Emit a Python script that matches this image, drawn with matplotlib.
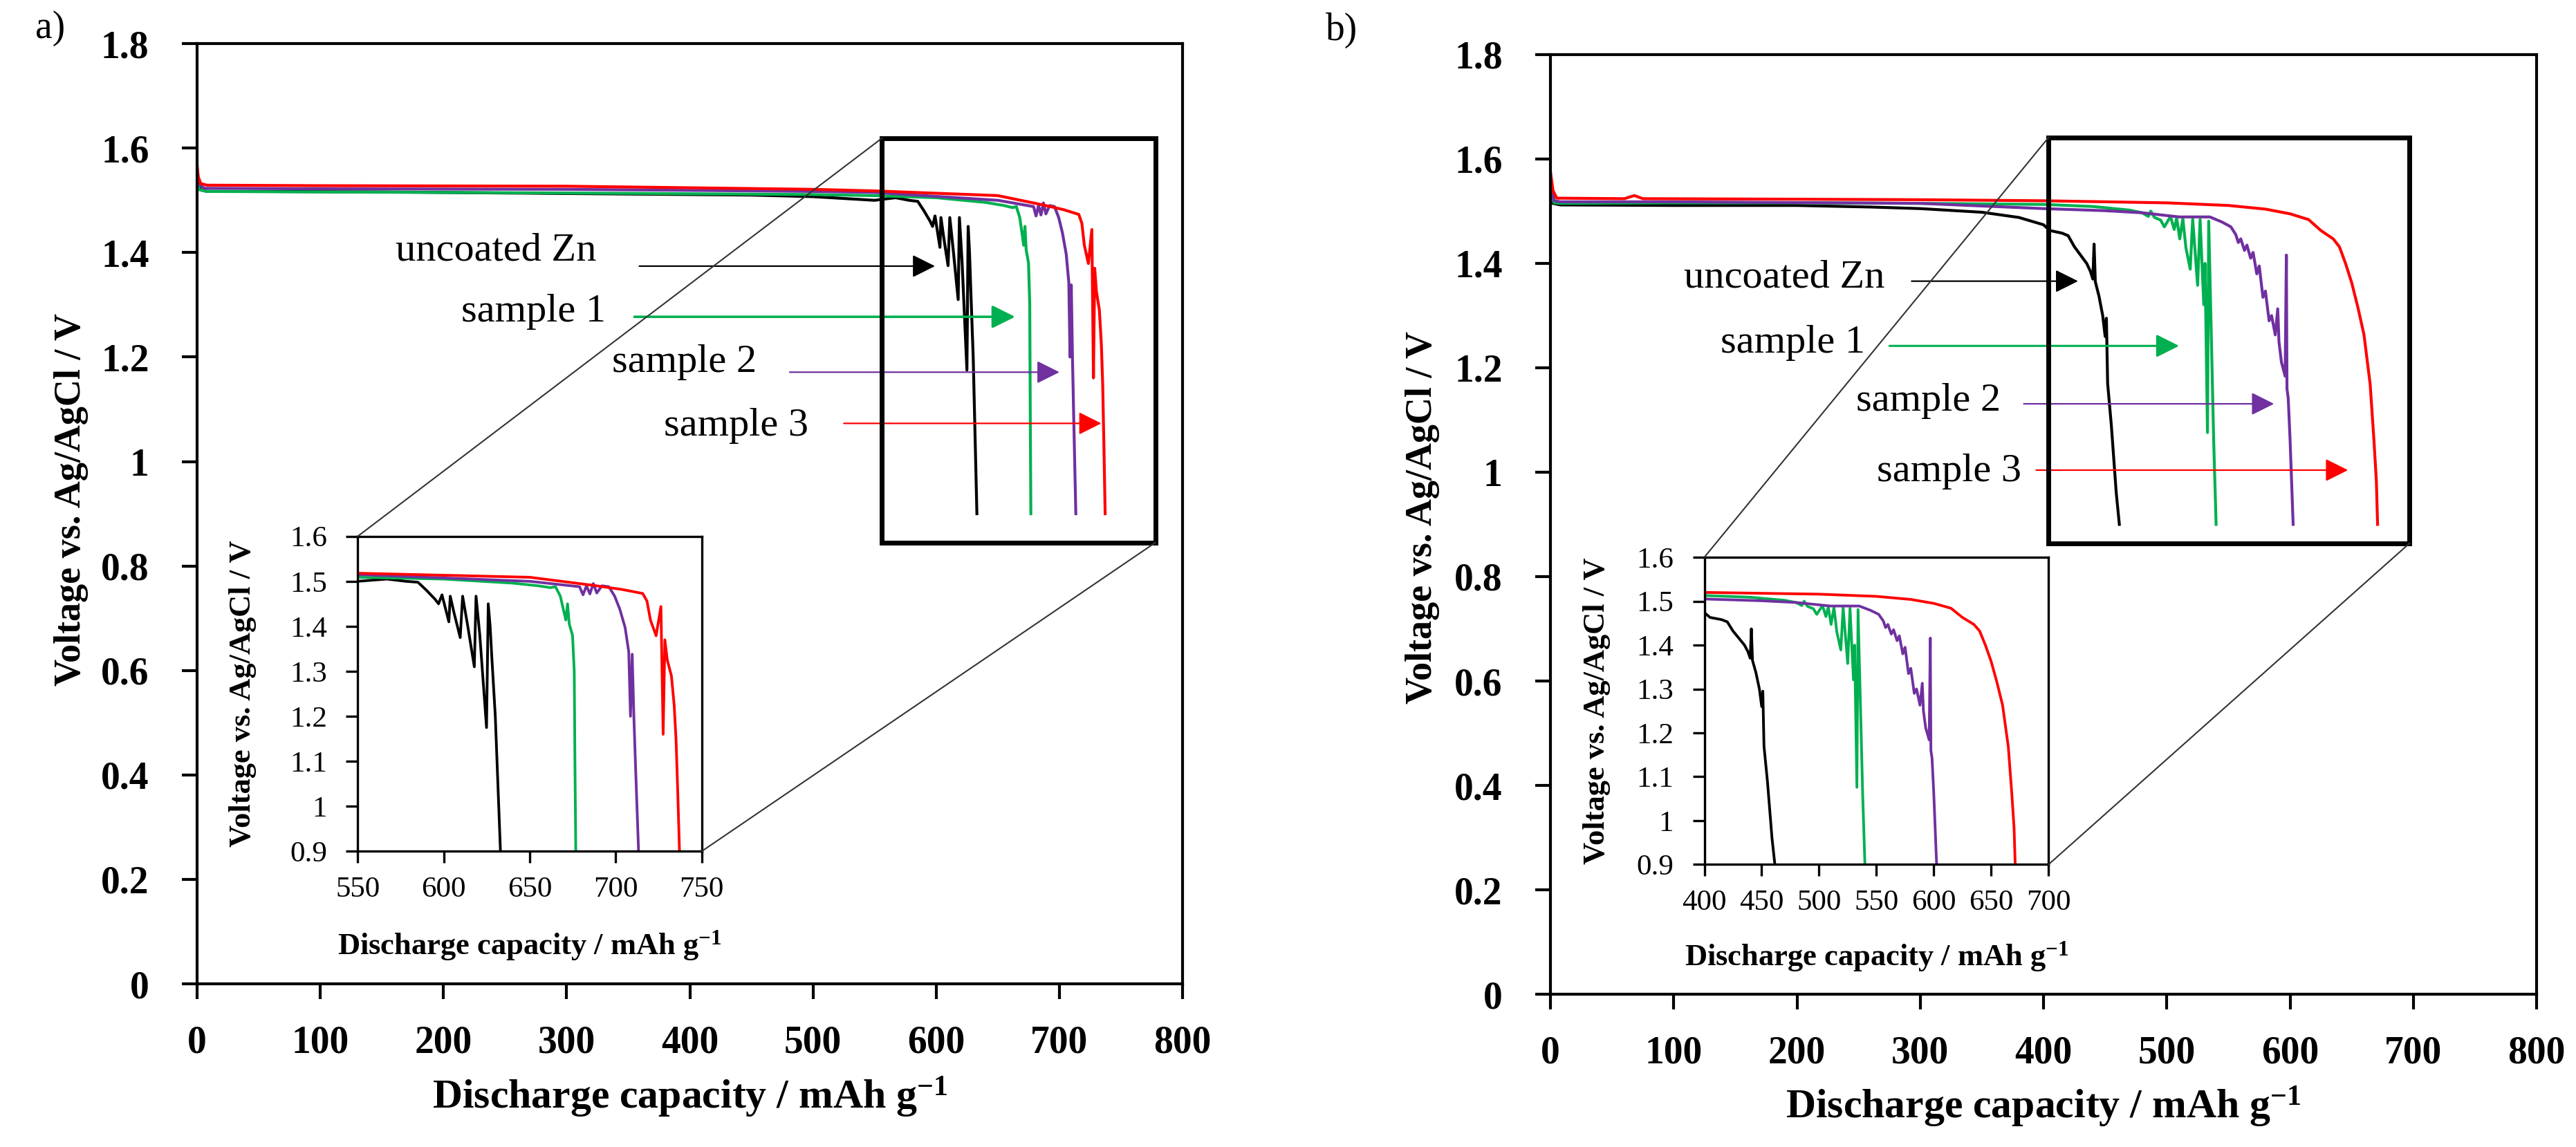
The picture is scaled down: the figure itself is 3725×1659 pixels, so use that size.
import matplotlib
matplotlib.use('Agg')
import matplotlib.pyplot as plt
from matplotlib.patches import Rectangle, ConnectionPatch
from matplotlib.ticker import FuncFormatter, MultipleLocator

plt.rcParams['font.family'] = 'Liberation Serif'
plt.rcParams['mathtext.fontset'] = 'custom'
plt.rcParams['mathtext.rm'] = 'Liberation Serif'
plt.rcParams['mathtext.bf'] = 'Liberation Serif:bold'
plt.rcParams['mathtext.it'] = 'Liberation Serif:italic'

names = ['uncoated Zn', 'sample 1', 'sample 2', 'sample 3']
colors = ['black', '#00B050', '#7030A0', '#FF0000']

# ---- panel a data (capacity in mAh/g, voltage in V) ----
a_black_cap = [0, 1, 3, 8, 50, 150, 250, 350, 450, 500, 550, 560, 567, 578, 585, 590, 595, 597,
               599, 601, 603, 603.8, 606, 609.6, 611, 614, 617.8, 618.8, 621, 624.9, 625.9, 627,
               628, 630, 632, 633]
a_black_v = [1.55, 1.53, 1.52, 1.517, 1.517, 1.516, 1.514, 1.512, 1.51, 1.507, 1.50, 1.503, 1.505,
             1.50, 1.498, 1.48, 1.46, 1.45, 1.47, 1.44, 1.41, 1.467, 1.43, 1.375, 1.467, 1.40, 1.31,
             1.467, 1.38, 1.175, 1.45, 1.40, 1.33, 1.20, 1.00, 0.9]
a_green_cap = [0, 2, 8, 100, 300, 500, 550, 600, 640, 655, 662, 665, 667.8, 671, 672, 673, 674.9,
               675.9, 676.3, 676.8]
a_green_v = [1.535, 1.52, 1.517, 1.516, 1.514, 1.511, 1.509, 1.505, 1.496, 1.49, 1.486, 1.488,
             1.467, 1.414, 1.45, 1.405, 1.38, 1.30, 1.10, 0.9]
a_purple_cap = [0, 2, 6, 100, 300, 500, 550, 650, 679, 681, 683, 685, 687, 689, 692, 696, 699.4,
                702.4, 705.5, 707.6, 708.6, 709.6, 710.6, 711.6, 713.3]
a_purple_v = [1.55, 1.53, 1.523, 1.522, 1.521, 1.517, 1.515, 1.50, 1.488, 1.47, 1.49, 1.472, 1.495,
              1.474, 1.49, 1.488, 1.467, 1.438, 1.397, 1.343, 1.20, 1.338, 1.196, 1.083, 0.9]
a_red_cap = [0, 1, 3, 8, 100, 300, 500, 550, 650, 687, 703.5, 715.7, 718.2, 720.2, 723.5, 726.3,
             727.6, 728.6, 730, 732.4, 734, 735.1, 736.1, 737.1]
a_red_v = [1.568, 1.545, 1.532, 1.529, 1.528, 1.527, 1.521, 1.518, 1.509, 1.491, 1.482, 1.473,
           1.456, 1.414, 1.379, 1.444, 1.16, 1.37, 1.325, 1.29, 1.225, 1.148, 1.03, 0.9]

# ---- panel b data ----
b_black_cap = [0, 2, 8, 100, 200, 260, 300, 350, 380, 400, 405, 415, 420, 425, 430, 435, 438, 440,
               441, 442, 445, 448, 450, 451, 452, 455, 459, 461.5]
b_black_v = [1.53, 1.515, 1.512, 1.511, 1.511, 1.508, 1.505, 1.498, 1.488, 1.474, 1.463, 1.458,
             1.453, 1.432, 1.416, 1.40, 1.385, 1.37, 1.437, 1.365, 1.337, 1.30, 1.26, 1.295, 1.17,
             1.09, 0.96, 0.9]
b_green_cap = [0, 3, 8, 100, 200, 300, 400, 440, 470, 480, 485, 487, 490, 495, 498, 503, 506, 508,
               510.5, 513, 515.5, 519, 521, 525, 527, 530, 531, 533, 534, 536.5, 538, 540]
b_green_v = [1.53, 1.516, 1.515, 1.516, 1.516, 1.515, 1.513, 1.509, 1.502, 1.497, 1.49, 1.50,
             1.488, 1.483, 1.47, 1.49, 1.465, 1.487, 1.447, 1.486, 1.43, 1.389, 1.485, 1.358,
             1.484, 1.321, 1.40, 1.076, 1.481, 1.221, 1.063, 0.9]
b_purple_cap = [0, 3, 8, 100, 300, 400, 450, 480, 510, 535, 545, 552, 556, 558, 560, 563, 565, 568,
                570, 573, 575, 578, 580, 583, 585, 588, 590, 591, 593, 596, 597, 597.5, 598.5, 600,
                602.5]
b_purple_v = [1.55, 1.52, 1.518, 1.518, 1.515, 1.505, 1.501, 1.497, 1.489, 1.489, 1.479, 1.47,
              1.455, 1.44, 1.447, 1.425, 1.435, 1.41, 1.421, 1.38, 1.395, 1.335, 1.347, 1.29, 1.30,
              1.263, 1.313, 1.25, 1.211, 1.184, 1.416, 1.16, 1.142, 1.063, 0.9]
b_red_cap = [0, 2, 5, 60, 68, 75, 200, 300, 400, 450, 500, 550, 580, 600, 615, 625, 630, 635, 640,
             645, 650, 655, 660, 665, 668, 670, 671]
b_red_v = [1.575, 1.54, 1.525, 1.524, 1.53, 1.524, 1.523, 1.522, 1.52, 1.518, 1.516, 1.511, 1.504,
           1.495, 1.484, 1.463, 1.455, 1.447, 1.432, 1.40, 1.363, 1.316, 1.263, 1.168, 1.063, 0.984,
           0.9]

# annotation arrows: (text right x, text y, arrow start x, arrow end x, arrow y)
a_notes = [(324, 1.404, 359, 599, 1.374), (332, 1.286, 355, 664, 1.277),
           (454, 1.190, 481, 700, 1.171), (496, 1.068, 525, 734, 1.073)]
b_notes = [(271, 1.373, 293, 428, 1.366), (255, 1.248, 275, 510, 1.242),
           (365, 1.136, 384, 587, 1.131), (382, 1.001, 394, 647, 1.004)]
a_arrow_lw = [1.6, 2.6, 1.6, 1.6]
b_arrow_lw = [1.6, 2.2, 1.6, 1.6]

fmt = FuncFormatter(lambda v, p: f'{round(v, 2):g}')
xlab = 'Discharge capacity / mAh g$^{\\mathbf{-1}}$'
ylab = 'Voltage vs. Ag/AgCl / V'


def panel(fig, rect, curves, notes, arrow_lw, box, inset_rect, inset_xlim, tag, tag_xy,
          ylab_xy, xlab_y, inset_ylab_x):
    ax = fig.add_axes(rect)
    for (cap, v), c in zip(curves, colors):
        ax.plot(cap, v, color=c, lw=3)
    ax.set_xlim(0, 800)
    ax.set_ylim(0, 1.8)
    ax.xaxis.set_major_locator(MultipleLocator(100))
    ax.yaxis.set_major_locator(MultipleLocator(0.2))
    ax.yaxis.set_major_formatter(fmt)
    for s in ax.spines.values():
        s.set_linewidth(3)
    ax.tick_params(axis='both', direction='out', length=16, width=3, labelsize=40)
    ax.tick_params(axis='x', pad=27)
    ax.tick_params(axis='y', pad=34)
    for lab in ax.get_xticklabels() + ax.get_yticklabels():
        lab.set_fontweight('bold')
    ax.set_xlabel(xlab, fontsize=43, fontweight='bold', va='center')
    ax.xaxis.set_label_coords(0.5, xlab_y)
    ax.set_ylabel(ylab, fontsize=39, fontweight='bold', va='center')
    ax.yaxis.set_label_coords(ylab_xy[0], ylab_xy[1])

    for (tx, ty, x0, x1, ay), c, lw, name in zip(notes, colors, arrow_lw, names):
        ax.text(tx, ty, name, fontsize=42, ha='right', va='center')
        ax.annotate('', xy=(x1, ay), xytext=(x0, ay),
                    arrowprops=dict(arrowstyle='-|>,head_length=0.6,head_width=0.3',
                                    color=c, lw=lw, mutation_scale=34, shrinkA=0, shrinkB=0))

    bx0, by0, bx1, by1 = box
    ax.add_patch(Rectangle((bx0, by0), bx1 - bx0, by1 - by0, fill=False, lw=5,
                           edgecolor='black', zorder=3))

    ins = ax.inset_axes(inset_rect)
    for (cap, v), c in zip(curves, colors):
        ins.plot(cap, v, color=c, lw=2.8)
    ins.set_xlim(*inset_xlim)
    ins.set_ylim(0.9, 1.6)
    ins.xaxis.set_major_locator(MultipleLocator(50))
    ins.yaxis.set_major_locator(MultipleLocator(0.1))
    ins.yaxis.set_major_formatter(fmt)
    for s in ins.spines.values():
        s.set_linewidth(2.4)
    ins.tick_params(axis='both', direction='out', length=12, width=2.4, labelsize=31)
    ins.tick_params(axis='x', pad=14)
    ins.tick_params(axis='y', pad=20)
    ins.set_xlabel(xlab, fontsize=32, fontweight='bold', va='center')
    ins.xaxis.set_label_coords(0.5, -0.3)
    ins.set_ylabel(ylab, fontsize=32, fontweight='bold', va='center')
    ins.yaxis.set_label_coords(inset_ylab_x, 0.5)

    for ins_corner, data_corner in [((0, 1), (bx0, by1)), ((1, 0), (bx1, by0))]:
        con = ConnectionPatch(xyA=ins_corner, coordsA=ins.transAxes,
                              xyB=data_corner, coordsB=ax.transData,
                              color='#333333', lw=1.5, zorder=2)
        fig.add_artist(con)

    fig.text(tag_xy[0], tag_xy[1], tag, fontsize=40, ha='left', va='center')
    return ax


fig = plt.figure(figsize=(37.25, 16.59), dpi=100)

panel(fig, [0.0765, 0.1422, 0.3826, 0.8198],
      [(a_black_cap, a_black_v), (a_green_cap, a_green_v),
       (a_purple_cap, a_purple_v), (a_red_cap, a_red_v)],
      a_notes, a_arrow_lw, (556, 0.845, 778, 1.619),
      [0.163, 0.141, 0.349, 0.335], (550, 750), 'a)', (0.0137, 0.975),
      (-0.128, 0.515), -0.12, -0.335)

panel(fig, [0.6019, 0.1332, 0.3828, 0.8192],
      [(b_black_cap, b_black_v), (b_green_cap, b_green_v),
       (b_purple_cap, b_purple_v), (b_red_cap, b_red_v)],
      b_notes, b_arrow_lw, (404, 0.864, 697, 1.641),
      [0.156, 0.138, 0.349, 0.327], (400, 700), 'b)', (0.5147, 0.9735),
      (-0.130, 0.507), -0.12, -0.312)

fig.savefig('out.png', dpi=100)
